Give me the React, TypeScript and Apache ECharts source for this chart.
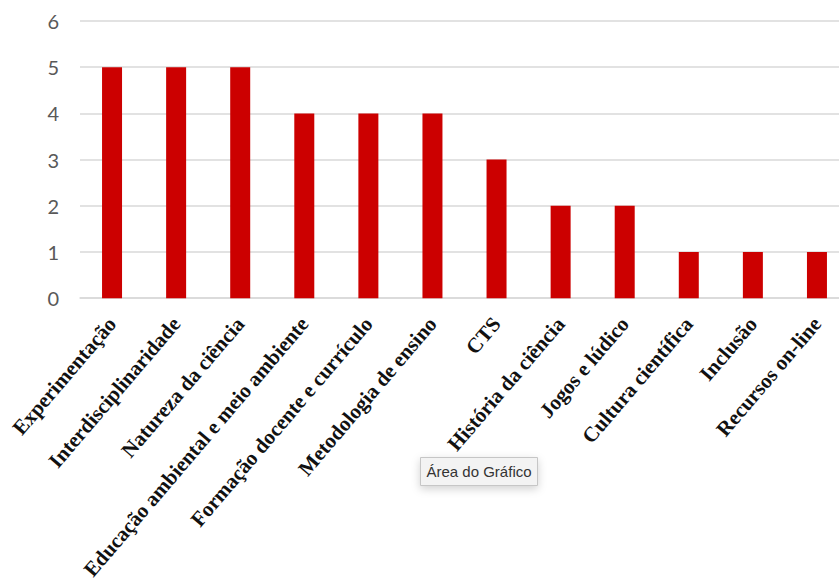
import React, { useEffect, useRef } from "react";
import * as echarts from "echarts";

const categories = [
  "Experimentação",
  "Interdisciplinaridade",
  "Natureza da ciência",
  "Educação ambiental e meio ambiente",
  "Formação docente e currículo",
  "Metodologia de ensino",
  "CTS",
  "História da ciência",
  "Jogos e lúdico",
  "Cultura científica",
  "Inclusão",
  "Recursos on-line",
];
const values = [5, 5, 5, 4, 4, 4, 3, 2, 2, 1, 1, 1];
const yTicks = { min: 0, max: 6, interval: 1 };
const tooltipLabel = "Área do Gráfico";

export default function App() {
  const ref = useRef<HTMLDivElement>(null);
  useEffect(() => {
    if (!ref.current) return;
    const chart = echarts.init(ref.current, undefined, { renderer: "svg" });
    chart.setOption({
      animation: false,
      backgroundColor: "#ffffff",
      grid: { left: 80, right: 11, top: 21, bottom: 283, containLabel: false },
      xAxis: {
        type: "category",
        data: categories,
        axisLine: { show: true, lineStyle: { color: "#d9d9d9", width: 1.5 } },
        axisTick: { show: false },
        axisLabel: {
          interval: 0,
          rotate: 49.5,
          margin: 22,
          color: "#111111",
          fontFamily: "Liberation Serif",
          fontWeight: "bold",
          fontSize: 21,
        },
      },
      yAxis: {
        type: "value",
        min: yTicks.min,
        max: yTicks.max,
        interval: yTicks.interval,
        axisLine: { show: false },
        axisTick: { show: false },
        splitLine: { lineStyle: { color: "#d9d9d9", width: 1.5 } },
        axisLabel: {
          margin: 21,
          color: "#595959",
          fontFamily: "Lato",
          fontSize: 20,
        },
      },
      series: [
        {
          type: "bar",
          data: values,
          barWidth: 20,
          itemStyle: { color: "#cc0000" },
        },
      ],
      graphic: [
        {
          type: "group",
          left: 420,
          top: 457,
          children: [
            {
              type: "rect",
              shape: { x: 0, y: 0, width: 117, height: 28 },
              style: {
                fill: "#f3f3f3",
                stroke: "#c6c6c6",
                lineWidth: 1,
                shadowBlur: 8,
                shadowColor: "rgba(0,0,0,0.18)",
                shadowOffsetY: 3,
              },
            },
            {
              type: "text",
              x: 6,
              y: 14,
              style: {
                text: tooltipLabel,
                fill: "#333333",
                font: "15px 'Liberation Sans'",
                verticalAlign: "middle",
              },
            },
          ],
        },
      ],
    });
    return () => chart.dispose();
  }, []);
  return (
    <div
      style={{
        position: "absolute",
        left: 0,
        top: 0,
        width: 839,
        height: 583,
        overflow: "hidden",
      }}
    >
      <div ref={ref} style={{ width: 860, height: 583 }} />
    </div>
  );
}
